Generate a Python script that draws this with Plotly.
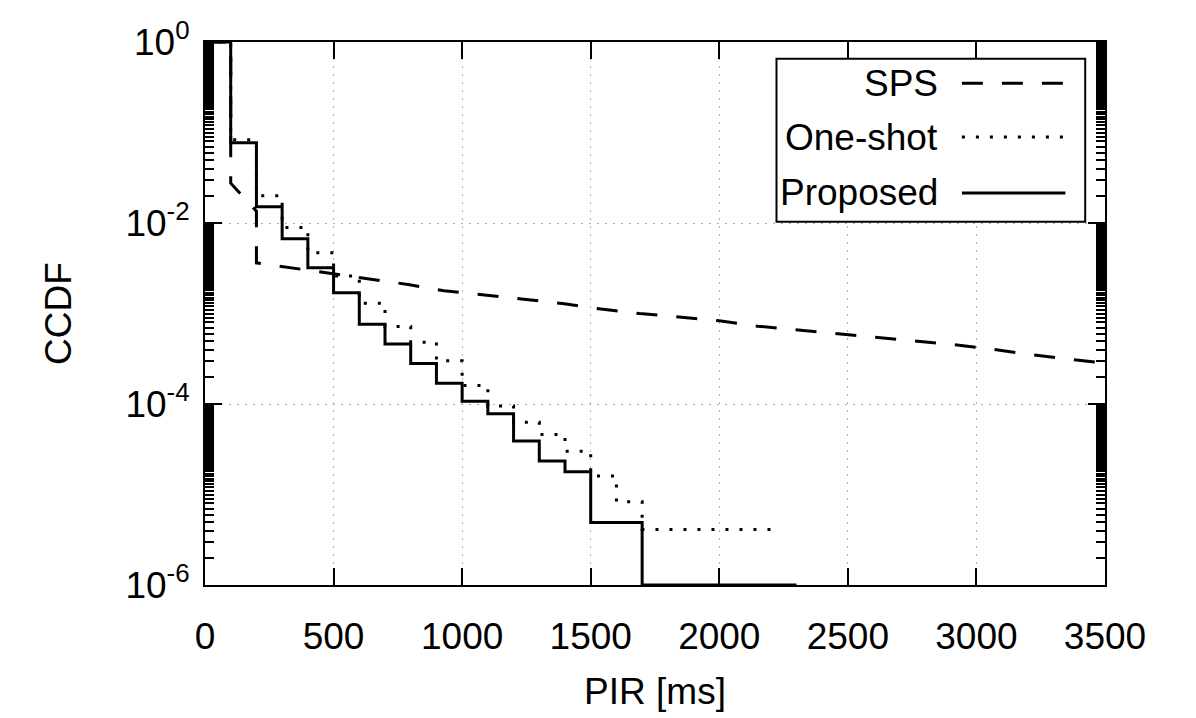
import plotly.graph_objects as go

# ---------------- data ----------------
series_names = ["SPS", "One-shot", "Proposed"]

# SPS (linear segments)
sps_pir = [0, 100, 100, 200, 200, 350, 450, 600, 790, 930, 1080, 1230, 1390, 1540,
           1690, 1850, 2000, 2150, 2300, 2450, 2600, 2750, 2900, 3050, 3200, 3350, 3500]
sps_ccdf = [1.0, 1.0, 0.0275, 0.0135, 0.00363, 0.00316, 0.00288, 0.00251, 0.00209,
            0.00178, 0.00162, 0.00145, 0.00129, 0.00112, 0.00100, 0.000912, 0.000832,
            0.000724, 0.000661, 0.000603, 0.000550, 0.000501, 0.000457, 0.000407,
            0.000355, 0.000316, 0.000282]

# One-shot (step function, value holds until next x)
oneshot_pir = [0, 100, 200, 300, 400, 500, 600, 700, 800, 900, 1000, 1100, 1200,
               1300, 1400, 1500, 1600, 1700, 2200]
oneshot_ccdf = [1.0, 0.083, 0.020, 0.0089, 0.0047, 0.0026, 0.0013, 7.2e-4, 4.8e-4,
                3.0e-4, 1.6e-4, 9.5e-5, 6.3e-5, 4.6e-5, 3.0e-5, 1.6e-5, 8.3e-6,
                4.1e-6, 4.1e-6]

# Proposed (step function)
proposed_pir = [0, 100, 200, 300, 400, 500, 600, 700, 800, 900, 1000, 1100, 1200,
                1300, 1400, 1500, 1700, 2300]
proposed_ccdf = [1.0, 0.077, 0.0151, 0.0067, 0.0032, 0.00170, 7.6e-4, 4.6e-4,
                 2.8e-4, 1.7e-4, 1.07e-4, 7.8e-5, 3.9e-5, 2.35e-5, 1.78e-5, 4.9e-6,
                 1.0e-6, 1.0e-6]

x_ticks = [0, 500, 1000, 1500, 2000, 2500, 3000, 3500]
y_ticks = [1e-6, 1e-4, 1e-2, 1e0]
y_ticktext = ["10<sup>-6</sup>", "10<sup>-4</sup>", "10<sup>-2</sup>", "10<sup>0</sup>"]
y_minor = [k * 10.0 ** e for e in (-6, -4, -2) for k in range(2, 100)]

FONT = "Liberation Sans, Arial, sans-serif"
FS = 37

fig = go.Figure()
fig.add_trace(go.Scatter(x=sps_pir, y=sps_ccdf, mode="lines", name=series_names[0],
                         line=dict(color="black", width=3, dash="21px,19px")))
fig.add_trace(go.Scatter(x=oneshot_pir, y=oneshot_ccdf, mode="lines", name=series_names[1],
                         line=dict(color="black", width=3, dash="3px,11px", shape="hv")))
fig.add_trace(go.Scatter(x=proposed_pir, y=proposed_ccdf, mode="lines", name=series_names[2],
                         line=dict(color="black", width=3, shape="hv")))

# the page body adds an 8px offset, so the figure is 8px smaller than the window
fig.update_layout(
    width=1188, height=710,
    margin=dict(l=197, r=91, t=34, b=133, autoexpand=False),
    paper_bgcolor="white", plot_bgcolor="white",
    showlegend=False,
    font=dict(family=FONT, size=FS, color="black"),
)

fig.update_xaxes(
    range=[0, 3500], tickmode="array", tickvals=x_ticks, automargin=False,
    ticks="inside", ticklen=17, tickwidth=2, tickcolor="black",
    showline=True, linecolor="black", linewidth=2, mirror="ticks",
    showgrid=True, gridcolor="#b0b0b0", gridwidth=1, griddash="2px,6px",
    zeroline=False, ticklabelstandoff=18,
    title=dict(text="PIR [ms]", standoff=22, font=dict(size=FS)),
    tickfont=dict(size=FS),
)
fig.update_yaxes(
    type="log", range=[-6, 0], tickmode="array", tickvals=y_ticks, ticktext=y_ticktext,
    automargin=False,
    ticks="inside", ticklen=17, tickwidth=2, tickcolor="black",
    showline=True, linecolor="black", linewidth=2, mirror="ticks",
    showgrid=True, gridcolor="#b0b0b0", gridwidth=1, griddash="2px,6px",
    zeroline=False, ticklabelstandoff=6,
    minor=dict(tickmode="array", tickvals=y_minor, ticks="inside", ticklen=9,
               tickwidth=1.5, tickcolor="black", showgrid=False),
    title=dict(text="CCDF", standoff=42, font=dict(size=FS)),
    tickfont=dict(size=FS),
)

# ---------------- gnuplot-style legend (text right, sample on the right) ----------------
box_x0, box_x1, box_y0, box_y1 = 0.635, 0.978, 0.669, 0.969
fig.add_shape(type="rect", xref="paper", yref="paper", x0=box_x0, x1=box_x1,
              y0=box_y0, y1=box_y1, line=dict(color="black", width=2),
              fillcolor="white", layer="above")
row_y = [0.924, 0.825, 0.722]
dashes = ["21px,19px", "3px,11px", "solid"]
for name, yy, dsh in zip(series_names, row_y, dashes):
    fig.add_annotation(xref="paper", yref="paper", x=0.817, y=yy, text=name,
                       showarrow=False, xanchor="right", yanchor="middle",
                       font=dict(family=FONT, size=FS, color="black"))
    fig.add_shape(type="line", xref="paper", yref="paper", x0=0.841, x1=0.956,
                  y0=yy, y1=yy, line=dict(color="black", width=3, dash=dsh),
                  layer="above")

fig.write_html("out.html")
